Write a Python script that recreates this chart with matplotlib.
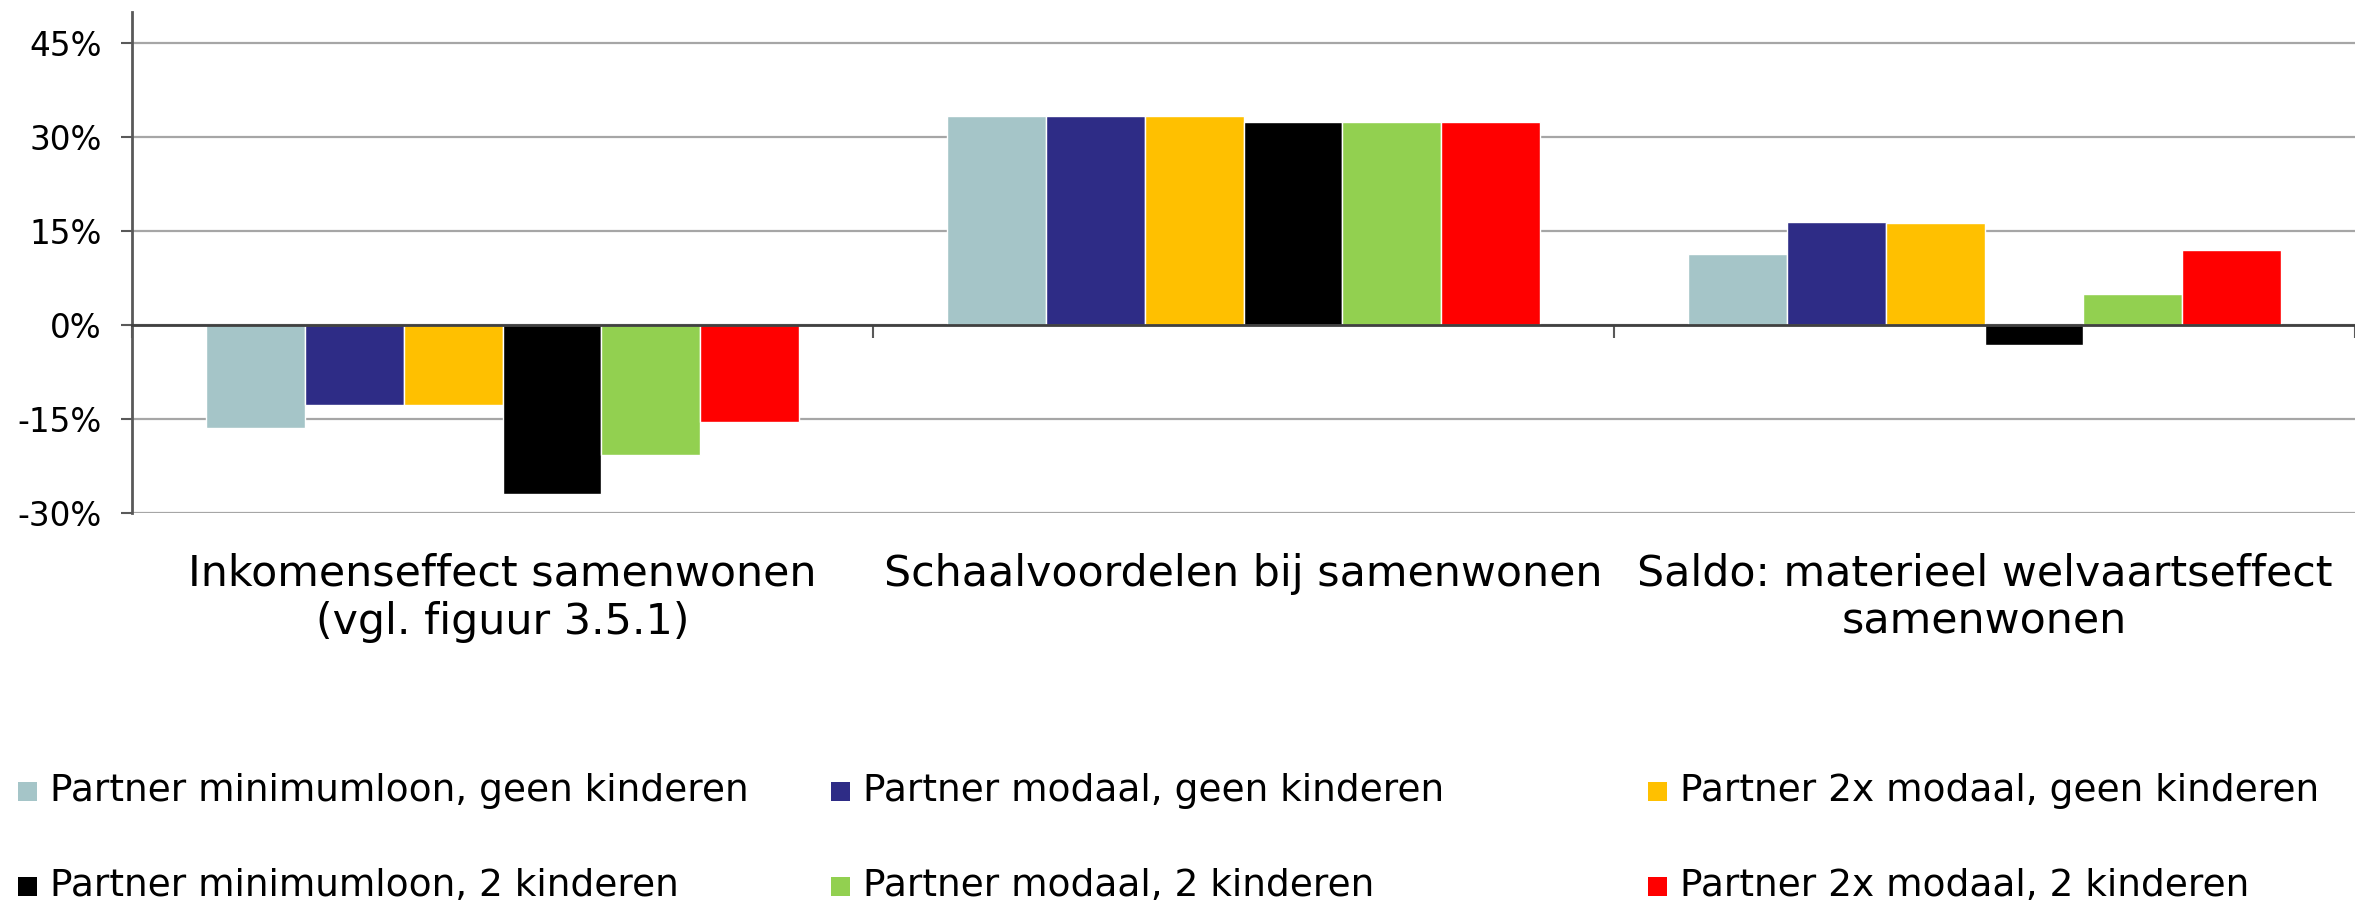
import matplotlib
matplotlib.use("Agg")
import matplotlib.pyplot as plt
from matplotlib.patches import Rectangle
import numpy as np

plt.rcParams['font.family'] = ['DejaVu Sans']

categories = ["Inkomenseffect samenwonen\n(vgl. figuur 3.5.1)",
              "Schaalvoordelen bij samenwonen",
              "Saldo: materieel welvaartseffect\nsamenwonen"]
series_names = ["Partner minimumloon, geen kinderen",
                "Partner modaal, geen kinderen",
                "Partner 2x modaal, geen kinderen",
                "Partner minimumloon, 2 kinderen",
                "Partner modaal, 2 kinderen",
                "Partner 2x modaal, 2 kinderen"]
min_geen = [-16.5, 33.4, 11.3]
modaal_geen = [-12.7, 33.4, 16.4]
modaal2x_geen = [-12.8, 33.4, 16.3]
min_2k = [-27.0, 32.4, -3.2]
modaal_2k = [-20.7, 32.4, 4.9]
modaal2x_2k = [-15.5, 32.4, 11.9]
series_values = [min_geen, modaal_geen, modaal2x_geen, min_2k, modaal_2k, modaal2x_2k]
colors = ["#A5C5C8", "#2E2C86", "#FFC000", "#000000", "#92D050", "#FF0000"]
yticks = [-30, -15, 0, 15, 30, 45]
ytick_labels = ["-30%", "-15%", "0%", "15%", "30%", "45%"]

W, H = 2355, 909
fig = plt.figure(figsize=(W / 100, H / 100), dpi=100)
ax = fig.add_axes([132 / W, 1 - 513 / H, (W - 132) / W, (513 - 11.6) / H])

x = np.arange(len(categories))
n = len(series_values)
bw = 0.8 / n
for i, (vals, col) in enumerate(zip(series_values, colors)):
    ax.bar(x - 0.4 + bw * (i + 0.5), vals, width=bw, color=col,
           edgecolor="white", linewidth=1.0, zorder=2)

ax.set_xlim(-0.5, 2.5)
ax.set_ylim(-30, 50)
ax.set_yticks(yticks)
ax.set_yticklabels(ytick_labels, fontsize=23.5)
ax.yaxis.grid(True, color="#A6A6A6", linewidth=1.6)
ax.set_axisbelow(True)

for s in ["top", "right"]:
    ax.spines[s].set_visible(False)
ax.spines["left"].set_color("#595959")
ax.spines["left"].set_linewidth(2)
ax.spines["bottom"].set_position(("data", 0))
ax.spines["bottom"].set_color("#404040")
ax.spines["bottom"].set_linewidth(2)
ax.spines["bottom"].set_zorder(3)

ax.set_xticks([-0.5, 0.5, 1.5, 2.5])
ax.set_xticklabels([])
ax.tick_params(axis="x", direction="out", length=9, width=1.5, color="#595959")
ax.tick_params(axis="y", direction="out", length=8, width=1.5, color="#595959", pad=14)

trans = matplotlib.transforms.blended_transform_factory(ax.transData, fig.transFigure)
for xi, lab in zip(x, categories):
    ax.text(xi, 1 - 553 / H, lab, transform=trans, ha="center", va="top",
            fontsize=30.8, linespacing=1.17, multialignment="center")

# legend
col_x = [18, 831, 1648]
row_y = [791, 886]
for i, (name, col) in enumerate(zip(series_names, colors)):
    r, c = divmod(i, 3)
    mx = col_x[c]
    my = row_y[r]
    fig.add_artist(Rectangle((mx / W, 1 - (my + 10) / H), 19 / W, 19 / H,
                             transform=fig.transFigure, facecolor=col,
                             edgecolor="none"))
    fig.text((mx + 32) / W, 1 - my / H, name, ha="left", va="center",
             fontsize=27)

fig.savefig("out.png", dpi=100)
